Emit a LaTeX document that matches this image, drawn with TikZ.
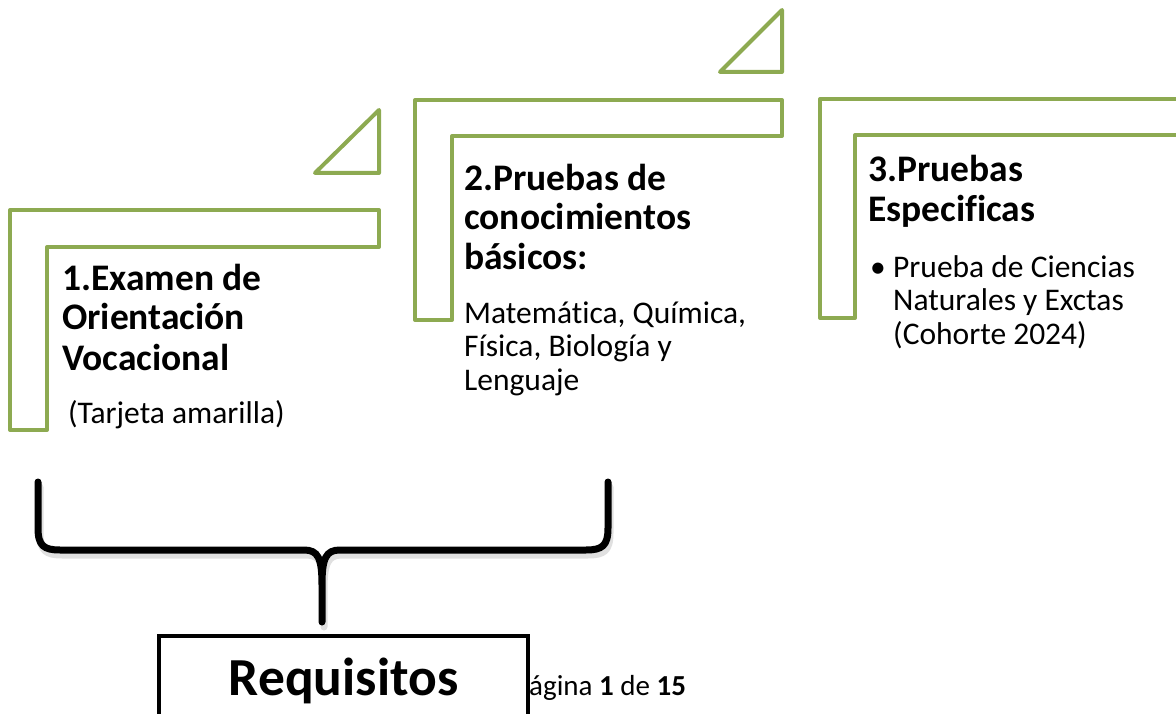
\documentclass[tikz,border=0pt]{standalone}
\usepackage{fontspec}
\setmainfont{Carlito}[Ligatures={NoCommon}]
\usepackage{tikz}
\usetikzlibrary{positioning,calc}
\definecolor{stepgreen}{RGB}{141,170,81}
\newcommand{\bracehalves}{(38,482) -- (38,528) .. controls (38,546) and (44,550) .. (60,550) -- (304,550) .. controls (318,550) and (322,558) .. (322,585) -- (322,622)
  (608,482) -- (608,528) .. controls (608,546) and (602,550) .. (586,550) -- (340,550) .. controls (326,550) and (322,558) .. (322,585)}

\begin{document}
\begin{tikzpicture}[x=1pt,y=-1pt,
    frame/.style={draw=stepgreen, line width=4pt, line join=round},
    head/.style={anchor=base west, align=left, inner sep=0pt, font=\fontsize{37.5}{40}\selectfont\bfseries},
    body/.style={anchor=base west, align=left, inner sep=0pt, font=\fontsize{31.5}{33.5}\selectfont},
    brace/.style={line width=7pt, line cap=round, line join=round},
    reqbox/.style={draw, line width=4pt, fill=white, minimum width=369pt, minimum height=110pt, anchor=north, inner sep=0pt}]
  \useasboundingbox (0,0) rectangle (1176,714);
  \clip (0,0) rectangle (1176,714);
  % green step frames
  \draw[frame] (10,210) -- (379,210) -- (379,247) -- (47,247) -- (47,430) -- (10,430) -- cycle;
  \draw[frame] (315,173) -- (379,110) -- (379,173) -- cycle;
  \draw[frame] (415,100) -- (782,100) -- (782,136) -- (452,136) -- (452,320) -- (415,320) -- cycle;
  \draw[frame] (720,72) -- (782,10) -- (782,72) -- cycle;
  \draw[frame] (820,99) -- (1200,99) -- (1200,135) -- (855,135) -- (855,318) -- (820,318) -- cycle;
  % step texts (base = last line)
  \node[head] (t1) at (62,370) {1.Examen de\\Orientación\\Vocacional};
  \node[body] (n1) at (68,423) {(Tarjeta amarilla)};
  \node[head] (t2) at (464,270) {2.Pruebas de\\conocimientos\\básicos:};
  \node[body] (n2) at (464,390) {Matemática, Química,\\Física, Biología y\\Lenguaje};
  \node[head] (t3) at (868,222) {3.Pruebas\\Especificas};
  \node[body] (b3) at (870,277) {•};
  \node[body] (n3) at (893,344) {Prueba de Ciencias\\Naturales y Exctas\\(Cohorte 2024)};
  % brace with its soft shadow
  \draw[brace, black!12, shift={(2,5)}] \bracehalves;
  \draw[brace] \bracehalves;
  % page footer and result box
  \node[anchor=base west, inner sep=0pt, font=\fontsize{29}{33}\selectfont] (pg) at (529,695) {ágina \textbf{1} de \textbf{15}};
  \node[reqbox] (req) at (343.5,634) {};
  \node[anchor=base, inner sep=0pt, font=\fontsize{53.5}{60}\selectfont\bfseries] (reqlbl) at (343.5,695) {Requisitos};
\end{tikzpicture}
\end{document}
